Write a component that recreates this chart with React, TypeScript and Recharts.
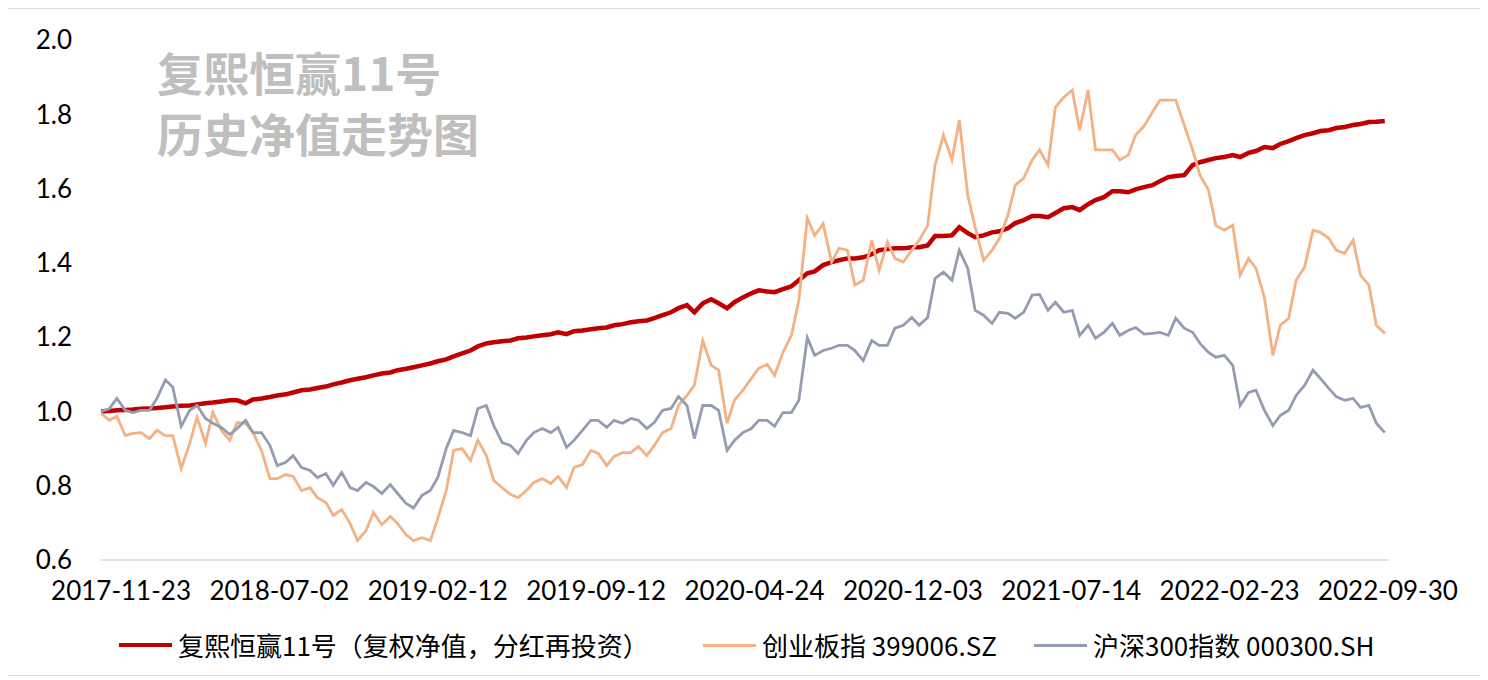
import React from 'react';
import { LineChart, Line, XAxis, YAxis } from 'recharts';

// one point roughly every 7.6 trading days, 161 points in total
const STEP_DAYS = 7.6;

const tickDays = [19, 169, 319, 469, 619, 769, 919, 1069, 1219];
const tickLabels = [
  '2017-11-23', '2018-07-02', '2019-02-12', '2019-09-12', '2020-04-24',
  '2020-12-03', '2021-07-14', '2022-02-23', '2022-09-30',
];
const yTicks = [0.6, 0.8, 1.0, 1.2, 1.4, 1.6, 1.8, 2.0];

const seriesNames = ['复熙恒赢11号（复权净值，分红再投资）', '创业板指 399006.SZ', '沪深300指数 000300.SH'];

// 复熙恒赢11号 复权净值
const fundNav = [
  1.000, 1.001, 1.003, 1.004, 1.005, 1.007, 1.008, 1.009, 1.011, 1.013,
  1.015, 1.016, 1.019, 1.022, 1.024, 1.027, 1.030, 1.030, 1.022, 1.032,
  1.035, 1.039, 1.043, 1.046, 1.051, 1.057, 1.059, 1.063, 1.067, 1.073,
  1.078, 1.084, 1.088, 1.092, 1.097, 1.102, 1.105, 1.111, 1.115, 1.119,
  1.124, 1.129, 1.135, 1.140, 1.148, 1.156, 1.164, 1.175, 1.183, 1.186,
  1.189, 1.191, 1.197, 1.199, 1.202, 1.205, 1.208, 1.213, 1.208, 1.216,
  1.218, 1.221, 1.224, 1.226, 1.232, 1.235, 1.240, 1.243, 1.245, 1.251,
  1.259, 1.267, 1.278, 1.286, 1.267, 1.291, 1.302, 1.291, 1.278, 1.294,
  1.307, 1.318, 1.326, 1.323, 1.321, 1.329, 1.337, 1.353, 1.372, 1.377,
  1.394, 1.402, 1.407, 1.412, 1.412, 1.415, 1.423, 1.434, 1.437, 1.439,
  1.439, 1.442, 1.442, 1.447, 1.472, 1.472, 1.474, 1.496, 1.480, 1.469,
  1.474, 1.482, 1.485, 1.493, 1.507, 1.515, 1.526, 1.526, 1.523, 1.534,
  1.547, 1.550, 1.542, 1.558, 1.569, 1.577, 1.593, 1.593, 1.590, 1.598,
  1.604, 1.609, 1.620, 1.631, 1.634, 1.636, 1.663, 1.671, 1.677, 1.682,
  1.685, 1.690, 1.685, 1.696, 1.701, 1.712, 1.709, 1.720, 1.728, 1.736,
  1.744, 1.749, 1.755, 1.757, 1.763, 1.766, 1.771, 1.774, 1.779, 1.780,
  1.782,
];

// 创业板指 399006.SZ (normalised)
const chinext = [
  0.995, 0.976, 0.987, 0.935, 0.941, 0.943, 0.927, 0.949, 0.935, 0.935,
  0.846, 0.914, 0.984, 0.914, 0.997, 0.949, 0.922, 0.970, 0.968, 0.943,
  0.895, 0.819, 0.819, 0.830, 0.825, 0.787, 0.795, 0.768, 0.755, 0.720,
  0.736, 0.698, 0.652, 0.679, 0.728, 0.695, 0.717, 0.698, 0.668, 0.652,
  0.660, 0.652, 0.712, 0.787, 0.895, 0.900, 0.868, 0.922, 0.881, 0.814,
  0.795, 0.776, 0.768, 0.787, 0.809, 0.819, 0.806, 0.825, 0.795, 0.849,
  0.857, 0.895, 0.887, 0.854, 0.879, 0.889, 0.889, 0.906, 0.881, 0.908,
  0.943, 0.954, 1.016, 1.043, 1.070, 1.191, 1.124, 1.111, 0.968, 1.030,
  1.057, 1.089, 1.116, 1.127, 1.097, 1.159, 1.205, 1.299, 1.520, 1.474,
  1.505, 1.402, 1.439, 1.434, 1.340, 1.353, 1.461, 1.380, 1.456, 1.412,
  1.402, 1.434, 1.461, 1.501, 1.663, 1.744, 1.677, 1.784, 1.582, 1.496,
  1.407, 1.434, 1.466, 1.528, 1.609, 1.628, 1.677, 1.704, 1.663, 1.819,
  1.846, 1.865, 1.757, 1.865, 1.704, 1.704, 1.704, 1.677, 1.690, 1.744,
  1.768, 1.806, 1.838, 1.838, 1.838, 1.771, 1.704, 1.636, 1.596, 1.501,
  1.488, 1.501, 1.367, 1.412, 1.385, 1.307, 1.151, 1.232, 1.251, 1.353,
  1.388, 1.488, 1.482, 1.466, 1.434, 1.426, 1.461, 1.367, 1.340, 1.232,
  1.210,
];

// 沪深300指数 000300.SH (normalised)
const csi300 = [
  1.000, 1.008, 1.035, 1.003, 0.997, 1.003, 1.003, 1.035, 1.085, 1.065,
  0.960, 1.003, 1.016, 0.981, 0.968, 0.957, 0.938, 0.954, 0.976, 0.943,
  0.943, 0.908, 0.854, 0.863, 0.881, 0.849, 0.841, 0.822, 0.833, 0.801,
  0.836, 0.795, 0.787, 0.809, 0.798, 0.779, 0.803, 0.779, 0.752, 0.740,
  0.774, 0.787, 0.822, 0.900, 0.949, 0.943, 0.935, 1.008, 1.016, 0.962,
  0.916, 0.908, 0.887, 0.922, 0.943, 0.954, 0.943, 0.957, 0.903, 0.922,
  0.949, 0.976, 0.976, 0.957, 0.976, 0.968, 0.981, 0.976, 0.954, 0.970,
  1.003, 1.008, 1.040, 1.016, 0.927, 1.016, 1.016, 1.003, 0.895, 0.922,
  0.943, 0.954, 0.976, 0.976, 0.960, 0.997, 0.997, 1.030, 1.199, 1.151,
  1.164, 1.170, 1.178, 1.178, 1.164, 1.137, 1.191, 1.178, 1.178, 1.224,
  1.232, 1.253, 1.232, 1.253, 1.358, 1.375, 1.353, 1.434, 1.385, 1.272,
  1.259, 1.237, 1.267, 1.264, 1.251, 1.267, 1.313, 1.315, 1.272, 1.294,
  1.267, 1.272, 1.205, 1.232, 1.197, 1.213, 1.237, 1.205, 1.218, 1.226,
  1.208, 1.210, 1.213, 1.205, 1.251, 1.224, 1.213, 1.183, 1.159, 1.146,
  1.151, 1.124, 1.016, 1.051, 1.057, 1.003, 0.962, 0.989, 1.003, 1.043,
  1.070, 1.111, 1.089, 1.062, 1.040, 1.030, 1.035, 1.011, 1.016, 0.968,
  0.943,
];

const RED = '#c00000';
const ORANGE = '#f4b183';
const GREY = '#959cb2';

const data = fundNav.map((v, i) => ({
  day: Math.round(i * STEP_DAYS),
  fund: v,
  cyb: chinext[i],
  hs300: csi300[i],
}));

const tickFont = { fontSize: 26, fill: '#000', fontFamily: 'Lato, "Noto Sans CJK SC", sans-serif' };

const legendItems = [
  { name: seriesNames[0], color: RED, thick: 4, left: 114 },
  { name: seriesNames[1], color: ORANGE, thick: 3, left: 698 },
  { name: seriesNames[2], color: GREY, thick: 3, left: 1029 },
];

const App: React.FC = () => {
  return (
    <div
      style={{
        position: 'relative',
        marginLeft: -4,
        width: 1478,
        height: 668,
        border: '1px solid #d9d9d9',
        boxSizing: 'border-box',
        background: '#fff',
      }}
    >
      <LineChart width={1476} height={666} data={data} margin={{ top: 31, right: 92, bottom: 70, left: 0 }}>
        <XAxis
          dataKey="day"
          type="number"
          domain={[0, 1220]}
          ticks={tickDays}
          tickFormatter={(d: number) => tickLabels[tickDays.indexOf(d)]}
          tick={tickFont}
          tickLine={false}
          tickMargin={16}
          height={45}
          axisLine={{ stroke: '#d9d9d9', strokeWidth: 1.5 }}
          interval={0}
        />
        <YAxis
          domain={[0.6, 2.0]}
          ticks={yTicks}
          tickFormatter={(v: number) => v.toFixed(1)}
          tick={tickFont}
          tickLine={false}
          axisLine={false}
          tickMargin={23}
          width={96}
        />
        <Line dataKey="fund" stroke={RED} strokeWidth={4.5} dot={false} isAnimationActive={false} type="linear" />
        <Line dataKey="cyb" stroke={ORANGE} strokeWidth={2.8} dot={false} isAnimationActive={false} type="linear" />
        <Line dataKey="hs300" stroke={GREY} strokeWidth={2.8} dot={false} isAnimationActive={false} type="linear" />
      </LineChart>

      {/* title overlay */}
      <div
        style={{
          position: 'absolute',
          left: 152,
          top: 39,
          color: '#bfbfbf',
          fontFamily: '"Noto Sans CJK SC", sans-serif',
          fontWeight: 700,
          fontSize: 46,
          lineHeight: '61px',
        }}
      >
        <div style={{ height: 61, lineHeight: '46px' }}>复熙恒赢11号</div>
        <div style={{ lineHeight: '46px' }}>历史净值走势图</div>
      </div>

      {/* legend */}
      {legendItems.map((it) => (
        <div
          key={it.name}
          style={{
            position: 'absolute',
            left: it.left,
            top: 623,
            height: 26,
            display: 'flex',
            alignItems: 'center',
            fontFamily: '"Noto Sans CJK SC", sans-serif',
            fontSize: 26,
            lineHeight: '26px',
            color: '#000',
            whiteSpace: 'nowrap',
          }}
        >
          <div style={{ width: 53, height: it.thick, background: it.color, marginRight: 6 }} />
          <span>{it.name}</span>
        </div>
      ))}
    </div>
  );
};

export default App;
